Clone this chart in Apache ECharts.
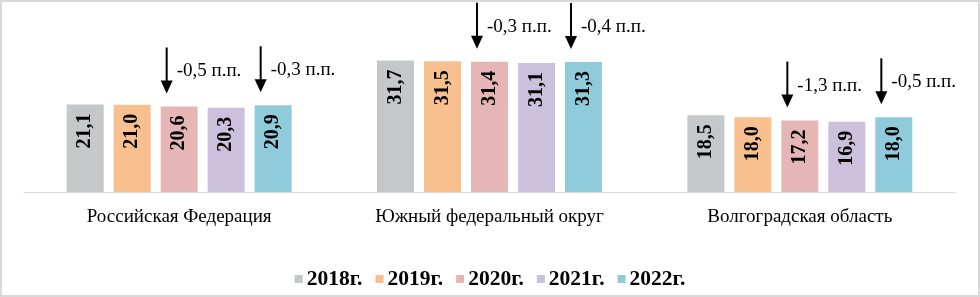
<!DOCTYPE html>
<html>
<head>
<meta charset="utf-8">
<script src="https://cdn.jsdelivr.net/npm/echarts@6/dist/echarts.min.js"></script>
<style>
html,body{margin:0;padding:0;background:#fff;}
#wrap{position:absolute;left:0;top:0;width:976px;height:293px;border:2px solid #d9d9d9;}
#chart{position:absolute;left:-2px;top:-2px;width:980px;height:297px;}
</style>
</head>
<body>
<div id="wrap"><div id="chart"></div></div>
<script>
const categories = ['Российская Федерация', 'Южный федеральный округ', 'Волгоградская область'];
const years = ['2018г.', '2019г.', '2020г.', '2021г.', '2022г.'];
const v2018 = [21.1, 31.7, 18.5];
const v2019 = [21.0, 31.5, 18.0];
const v2020 = [20.6, 31.4, 17.2];
const v2021 = [20.3, 31.1, 16.9];
const v2022 = [20.9, 31.3, 18.0];
const seriesValues = [v2018, v2019, v2020, v2021, v2022];
const colors = ['#c4c8c9', '#f8c08e', '#e6b6b6', '#ccc1dc', '#8fcbdb'];
// annotations: category index, series index (year), text
const annCat = [0, 0, 1, 1, 2, 2];
const annSeries = [2, 4, 2, 4, 2, 4];
const annText = ['-0,5 п.п.', '-0,3 п.п.', '-0,3 п.п.', '-0,4 п.п.', '-1,3 п.п.', '-0,5 п.п.'];

const FONT = '"Liberation Serif", "Times New Roman", serif';
const BAR_W = 37, GAP = 10;

const chart = echarts.init(document.getElementById('chart'), null, {renderer: 'canvas'});

const barSeries = years.map((y, i) => ({
  name: y,
  type: 'bar',
  data: seriesValues[i],
  barWidth: BAR_W,
  barGap: (GAP / BAR_W * 100).toFixed(1) + '%',
  itemStyle: {color: colors[i]},
  label: {
    show: true,
    position: 'insideTop',
    rotate: 90,
    align: 'right',
    verticalAlign: 'middle',
    distance: 9,
    fontFamily: FONT,
    fontWeight: 'bold',
    fontSize: 20,
    color: '#000',
    formatter: p => p.value.toFixed(1).replace('.', ',')
  },
  emphasis: {disabled: true}
}));

const annData = annCat.map((c, k) => [c, seriesValues[annSeries[k]][c], annSeries[k]]);

const annSeriesDef = {
  type: 'custom',
  name: 'ann',
  data: annData,
  encode: {x: 0, y: 1},
  clip: false,
  z: 10,
  silent: true,
  renderItem: function (params, api) {
    const cat = api.value(0), val = api.value(1), bi = api.value(2);
    const pt = api.coord([cat, val]);
    const x = pt[0] + (bi - 2) * (BAR_W + GAP) - BAR_W / 2 + 6;
    const tipY = pt[1] - 13;
    const topY = tipY - 46;
    return {
      type: 'group',
      children: [
        {type: 'line', shape: {x1: x, y1: topY, x2: x, y2: tipY - 10}, style: {stroke: '#000', lineWidth: 2}},
        {type: 'polygon', shape: {points: [[x - 6, tipY - 13], [x + 6, tipY - 13], [x, tipY]]}, style: {fill: '#000'}},
        {type: 'text', x: x + 10, y: tipY - 22, style: {text: annText[params.dataIndex], fill: '#000', font: '19px ' + FONT, textAlign: 'left', textVerticalAlign: 'middle'}}
      ]
    };
  }
};

chart.setOption({
  animation: false,
  backgroundColor: 'transparent',
  grid: {left: 24, right: 25, top: 26, bottom: 105, containLabel: false},
  legend: {
    data: years,
    top: 263,
    left: 'center',
    itemWidth: 8,
    itemHeight: 8,
    itemGap: 13,
    icon: 'rect',
    textStyle: {fontFamily: FONT, fontWeight: 'bold', fontSize: 21.5, color: '#000', padding: [0, 0, 0, -1]}
  },
  xAxis: {
    type: 'category',
    data: categories,
    axisLine: {lineStyle: {color: '#d9d9d9', width: 1}},
    axisTick: {show: false},
    axisLabel: {fontFamily: FONT, fontSize: 19, color: '#000', margin: 16}
  },
  yAxis: {type: 'value', min: 0, max: 40, show: false, splitLine: {show: false}},
  series: barSeries.concat([annSeriesDef])
});
</script>
</body>
</html>
